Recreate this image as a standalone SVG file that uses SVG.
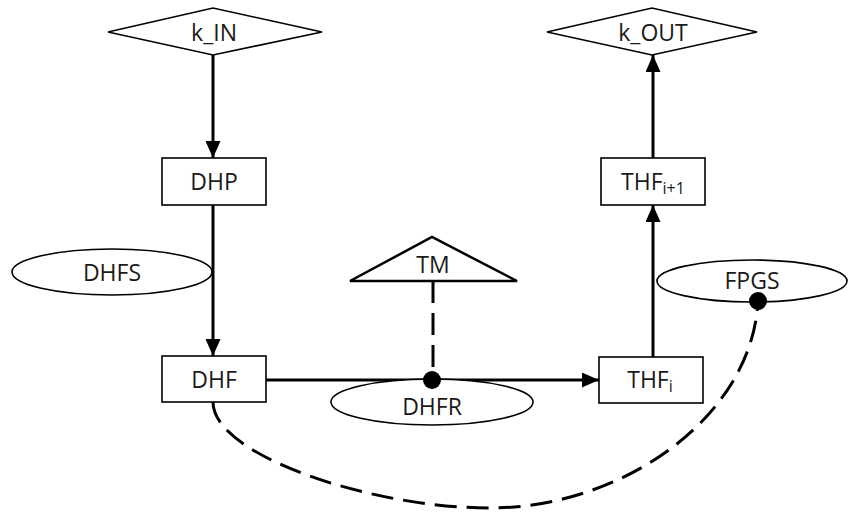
<svg xmlns="http://www.w3.org/2000/svg" width="851" height="512" viewBox="0 0 851 512">
<style>
.shape{fill:#fff;stroke:#000;stroke-width:1.6}
.tri{fill:#fff;stroke:#000;stroke-width:2.5}
.lbl{font-family:"Open Sans","Liberation Sans",sans-serif;font-size:23px;fill:#1a1a1a;text-anchor:middle;dominant-baseline:central}
.sub{font-size:16px}
.edge{fill:none;stroke:#000;stroke-width:3}
.dash{fill:none;stroke:#000;stroke-width:3;stroke-dasharray:22 10}
</style>
<defs>
<marker id="arr" markerUnits="userSpaceOnUse" markerWidth="17" markerHeight="15" refX="17" refY="7.5" orient="auto">
<path d="M0,0 L17,7.5 L0,15 z" fill="#000"/>
</marker>
</defs>
<g id="connectors">
<line class="edge" x1="213" y1="55" x2="213" y2="158" marker-end="url(#arr)"/>
<line class="edge" x1="213" y1="205" x2="213" y2="356" marker-end="url(#arr)"/>
<line class="edge" x1="266" y1="380" x2="599" y2="380" marker-end="url(#arr)"/>
<line class="edge" x1="653" y1="357" x2="653" y2="205" marker-end="url(#arr)"/>
<line class="edge" x1="653" y1="158" x2="653" y2="55" marker-end="url(#arr)"/>
<line class="dash" x1="433" y1="281" x2="433" y2="380"/>
<path class="dash" d="M213,402 C213,455 370,508 490,508 C620,508 750,420 758,303"/>
</g>
<g id="k_IN"><polygon class="shape" points="108,32 213,8 322,32 213,55"/><text class="lbl" x="214" y="32">k_IN</text></g>
<g id="k_OUT"><polygon class="shape" points="547,32 652,8 757,32 652,55"/><text class="lbl" x="653" y="32">k_OUT</text></g>
<g id="DHP"><rect class="shape" x="162" y="158" width="104" height="47"/><text class="lbl" x="214" y="181">DHP</text></g>
<g id="THF_i1"><rect class="shape" x="601" y="158" width="104" height="47"/><text class="lbl" x="653" y="181">THF<tspan class="sub" dy="7">i+1</tspan></text></g>
<g id="DHFS"><ellipse class="shape" cx="112" cy="272" rx="100" ry="23"/><text class="lbl" x="112" y="272">DHFS</text></g>
<g id="TM"><polygon class="tri" points="350,281 432,237 517,281"/><text class="lbl" x="433" y="264">TM</text></g>
<g id="FPGS"><ellipse class="shape" cx="752" cy="281" rx="95" ry="21"/><text class="lbl" x="752" y="280">FPGS</text><circle cx="758" cy="301" r="9" fill="#000"/></g>
<g id="DHF"><rect class="shape" x="162" y="356" width="104" height="46"/><text class="lbl" x="214" y="379">DHF</text></g>
<g id="DHFR"><ellipse class="shape" cx="432" cy="402" rx="101" ry="23"/><text class="lbl" x="432" y="406">DHFR</text><circle cx="432" cy="380" r="9" fill="#000"/></g>
<g id="THF_i"><rect class="shape" x="599" y="357" width="104" height="46"/><text class="lbl" x="650" y="379">THF<tspan class="sub" dy="7">i</tspan></text></g>
</svg>
